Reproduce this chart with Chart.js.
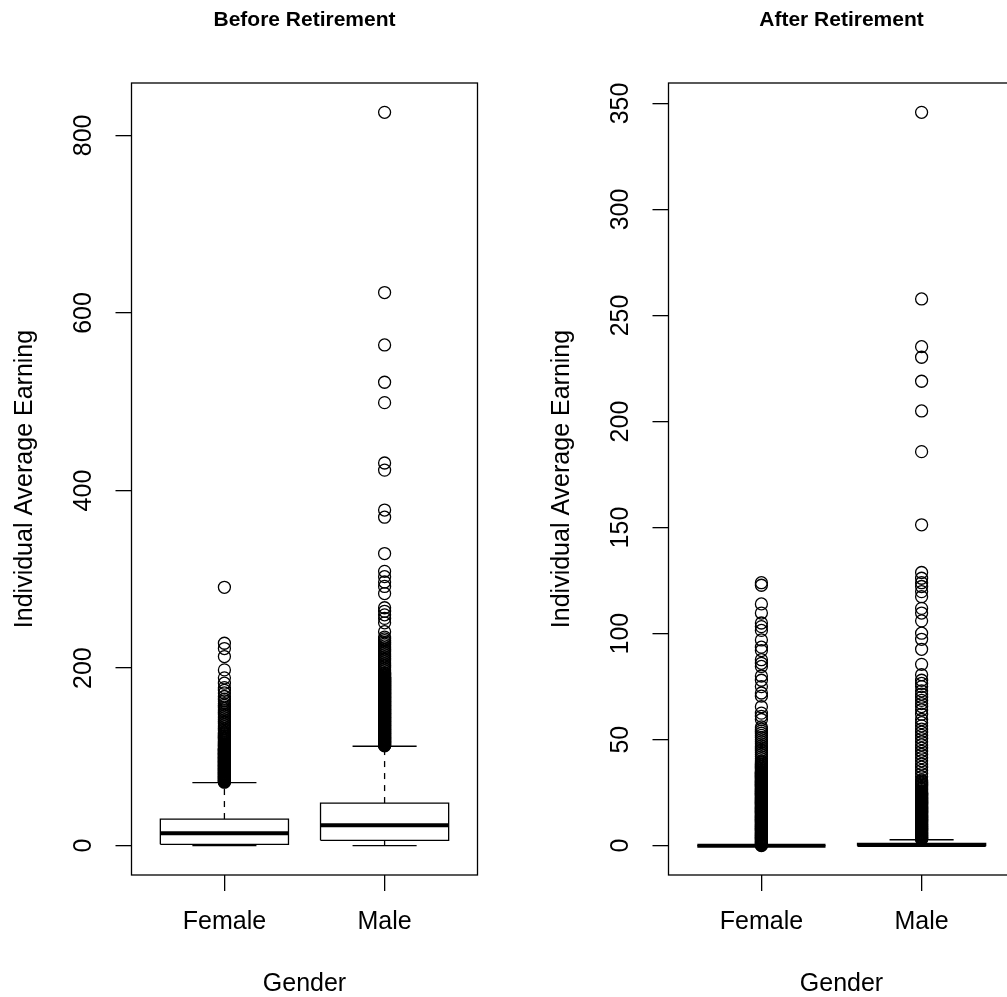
<!DOCTYPE html>
<html>
<head>
<meta charset="utf-8">
<script src="https://cdn.jsdelivr.net/npm/chart.js@4.4.1/dist/chart.umd.min.js"></script>
<style>
html, body { margin: 0; padding: 0; background: #fff; overflow: hidden; width: 1007px; height: 997px; }
#wrap { position: relative; width: 1007px; height: 997px; overflow: hidden; background: #fff; }
canvas.panel { position: absolute; top: 0; width: 504px; height: 997px; }
</style>
</head>
<body>
<div id="wrap">
  <canvas id="before" class="panel" width="504" height="997" style="left:0px"></canvas>
  <canvas id="after" class="panel" width="504" height="997" style="left:537px"></canvas>
</div>
<script>
// ---------------- DATA ----------------
const categories = ['Female', 'Male'];
const beforeTickValues = [0, 200, 400, 600, 800];
const afterTickValues = [0, 50, 100, 150, 200, 250, 300, 350];

// Before retirement box statistics
const beforeLowerWhisker = [0, 0];
const beforeQ1 = [1.5, 6];
const beforeMedian = [14, 23];
const beforeQ3 = [30, 48];
const beforeUpperWhisker = [71, 112];

const beforeFemaleOutliers = [71.5,72,72.5,73,73.5,74,74.5,75,75.5,76,76.5,77,77.5,78,78.5,79,79.5,80,80.5,81,81.5,82,82.5,83,83.5,84,84.5,85,85.5,86,86.5,87,87.5,88,88.5,89,89.5,90,90.5,91,91.5,92,92.5,93,93.5,94,94.5,95,95.5,96,96.5,97,97.5,98,98.5,99,99.5,100,100.5,101,101.5,102,102.5,103,103.5,104,104.5,105,105.5,106,106.5,107,107.5,108,108.5,109,109.5,110,111,112,113,114,115,116,117,118,119,120,121,122,123,124,125,126,127,128,130,132,134,136,138,140,142,144,146,148,150,152,154,156,158,160,163,165,168,172,175,178,183,189,198,213,222,228,291];

const beforeMaleOutliers = [112.5,113,113.5,114,114.5,115,115.5,116,116.5,117,117.5,118,118.5,119,119.5,120,120.5,121,121.5,122,122.5,123,123.5,124,124.5,125,125.5,126,126.5,127,127.5,128,128.5,129,129.5,130,130.5,131,131.5,132,132.5,133,133.5,134,134.5,135,135.5,136,136.5,137,137.5,138,138.5,139,139.5,140,140.5,141,141.5,142,142.5,143,143.5,144,144.5,145,145.5,146,146.5,147,147.5,148,148.5,149,149.5,150,150.5,151,151.5,152,152.5,153,153.5,154,154.5,155,155.5,156,156.5,157,157.5,158,158.5,159,159.5,160,160.5,161,161.5,162,162.5,163,163.5,164,164.5,165,165.5,166,166.5,167,167.5,168,168.5,169,169.5,170,170.5,171,171.5,172,172.5,173,173.5,174,174.5,175,175.5,176,176.5,177,177.5,178,178.5,179,179.5,180,180.5,181,181.5,182,182.5,183,183.5,184,184.5,185,185.5,186,186.5,187,187.5,188,188.5,189,189.5,190,191,192,193,194,195,197,199,201,203,205,207,209,211,213,215,217,219,221,223,225,227,229,231,233,235,241,251,256,260,264,268,284,292,297,303,309,329,370,378,423,431,499,522,564,623,826];

// After retirement box statistics
const afterLowerWhisker = [0, 0];
const afterQ1 = [0, 0];
const afterMedian = [0, 0.3];
const afterQ3 = [0, 1.1];
const afterUpperWhisker = [0, 2.8];

const afterFemaleOutliers = [0.05,0.25,0.5,0.75,1,1.25,1.5,1.75,2,2.25,2.5,2.75,3,3.25,3.5,3.75,4,4.25,4.5,4.75,5,5.25,5.5,5.75,6,6.25,6.5,6.75,7,7.25,7.5,7.75,8,8.25,8.5,8.75,9,9.25,9.5,9.75,10,10.25,10.5,10.75,11,11.25,11.5,11.75,12,12.25,12.5,12.75,13,13.25,13.5,13.75,14,14.25,14.5,14.75,15,15.25,15.5,15.75,16,16.25,16.5,16.75,17,17.25,17.5,17.75,18,18.25,18.5,18.75,19,19.25,19.5,19.75,20,20.25,20.5,20.75,21,21.25,21.5,21.75,22,22.25,22.5,22.75,23,23.25,23.5,23.75,24,24.25,24.5,24.75,25,25.25,25.5,25.75,26,26.25,26.5,26.75,27,27.25,27.5,27.75,28,28.25,28.5,28.75,29,29.25,29.5,29.75,30,30.25,30.5,30.75,31,31.25,31.5,31.75,32,32.25,32.5,32.75,33,33.25,33.5,33.75,34,34.25,34.5,34.75,35,35.5,36,36.5,37,37.5,38,38.5,39,39.5,40,41,42,43,44,45,46,47,48,49,50,51,52,53,54,55,56,59.5,61,62.5,65.5,70.5,72,75,78,80,84.5,86,87.7,92,93.6,97,101.5,103.3,105,109.7,114,122.8,124];

const afterMaleOutliers = [3,3.25,3.5,3.75,4,4.25,4.5,4.75,5,5.25,5.5,5.75,6,6.25,6.5,6.75,7,7.25,7.5,7.75,8,8.25,8.5,8.75,9,9.25,9.5,9.75,10,10.25,10.5,10.75,11,11.25,11.5,11.75,12,12.25,12.5,12.75,13,13.25,13.5,13.75,14,14.25,14.5,14.75,15,15.25,15.5,15.75,16,16.25,16.5,16.75,17,17.25,17.5,17.75,18,18.25,18.5,18.75,19,19.25,19.5,19.75,20,20.25,20.5,20.75,21,21.25,21.5,21.75,22,22.25,22.5,22.75,23,23.25,23.5,23.75,24,24.25,24.5,24.75,25,25.5,26,26.5,27,27.5,28,28.5,29,29.5,30,30.5,31,32.5,34,35.5,37,38.5,40,41.5,43,44.5,46,47.5,49,50.5,52,53.5,55,56.5,58,59.5,62,64,65.6,67,68.5,70,71.5,73,75,76.5,78,80.6,85.5,92.6,97.3,100.2,106,109.7,111.9,117.4,119.8,122.2,124,126.1,128.8,151.3,185.8,205,219,230.3,235.3,257.8,345.8];

// ---------------- STYLE ----------------
Chart.defaults.font.family = '"Liberation Sans", Arial, Helvetica, sans-serif';
const BOX_HALF = 0.4;     // boxwex 0.8
const CAP_HALF = 0.2;     // staplewex 0.5
const LW = 1.3;
const INK = '#000000';

const framePlugin = {
  id: 'frame',
  afterDatasetsDraw(chart) {
    const a = chart.chartArea, c = chart.ctx;
    c.save();
    c.strokeStyle = INK;
    c.lineWidth = LW;
    c.strokeRect(a.left, a.top, a.right - a.left, a.bottom - a.top);
    c.restore();
  }
};

function lineDs(points, width, dash) {
  return {
    data: points, showLine: true, borderColor: INK, borderWidth: width,
    borderDash: dash || [], borderCapStyle: 'butt', borderJoinStyle: 'miter',
    pointRadius: 0, fill: false, tension: 0, backgroundColor: INK
  };
}

function buildPanel(canvasId, title, tickValues, lower, q1, med, q3, upper, outlierSets) {
  const datasets = [];
  const allValues = [];
  categories.forEach((cat, i) => {
    const x = i + 1;
    datasets.push(lineDs([
      {x: x - BOX_HALF, y: q1[i]}, {x: x + BOX_HALF, y: q1[i]},
      {x: x + BOX_HALF, y: q3[i]}, {x: x - BOX_HALF, y: q3[i]},
      {x: x - BOX_HALF, y: q1[i]}], LW));
    datasets.push(lineDs([{x: x - BOX_HALF, y: med[i]}, {x: x + BOX_HALF, y: med[i]}], 4));
    datasets.push(lineDs([{x: x, y: q3[i]}, {x: x, y: upper[i]}], LW, [6, 6]));
    datasets.push(lineDs([{x: x, y: q1[i]}, {x: x, y: lower[i]}], LW, [6, 6]));
    datasets.push(lineDs([{x: x - CAP_HALF, y: upper[i]}, {x: x + CAP_HALF, y: upper[i]}], LW));
    datasets.push(lineDs([{x: x - CAP_HALF, y: lower[i]}, {x: x + CAP_HALF, y: lower[i]}], LW));
    datasets.push({
      data: outlierSets[i].map(v => ({x: x, y: v})),
      showLine: false, pointStyle: 'circle', pointRadius: 6,
      pointBorderWidth: LW, pointBorderColor: INK,
      pointBackgroundColor: 'rgba(0,0,0,0)'
    });
    allValues.push(lower[i], upper[i], ...outlierSets[i]);
  });
  const lo = Math.min(...allValues), hi = Math.max(...allValues);
  const ext = (hi - lo) * 0.04;
  const tickGrid = {display: true, drawOnChartArea: false, drawTicks: true, tickLength: 16, color: INK, lineWidth: LW};

  new Chart(document.getElementById(canvasId), {
    type: 'scatter',
    data: {datasets},
    options: {
      responsive: false, animation: false, events: [],
      layout: {padding: {left: 0, right: 26.5, top: 0, bottom: 0}},
      plugins: {
        legend: {display: false}, tooltip: {enabled: false},
        title: {display: true, text: title, fullSize: false, color: INK,
          font: {size: 21, weight: 'bold', lineHeight: 1}, padding: {top: 9.7, bottom: 52.3}}
      },
      scales: {
        x: {
          type: 'linear', bounds: 'data', min: 0.5 - 0.08, max: categories.length + 0.5 + 0.08,
          afterFit(s) { s.height = 122; },
          afterBuildTicks(s) { s.ticks = categories.map((c, i) => ({value: i + 1})); },
          ticks: {color: INK, font: {size: 25, lineHeight: 1.2}, padding: 16, autoSkip: false,
            maxRotation: 0, minRotation: 0, callback: (v, i) => categories[i]},
          grid: tickGrid, border: {display: false},
          title: {display: true, text: 'Gender', color: INK, font: {size: 25, lineHeight: 1}, padding: {top: 0, bottom: 0.5}}
        },
        y: {
          type: 'linear', bounds: 'data', min: lo - ext, max: hi + ext,
          afterFit(s) { s.width = 131.5; },
          afterBuildTicks(s) { s.ticks = tickValues.map(v => ({value: v})); },
          ticks: {color: INK, font: {size: 25, lineHeight: 1.2}, padding: 11, minRotation: 90, maxRotation: 90,
            crossAlign: 'center', autoSkip: false, callback: v => String(v)},
          grid: tickGrid, border: {display: false},
          title: {display: true, text: 'Individual Average Earning', color: INK, font: {size: 25, lineHeight: 1}, padding: {top: 12.75, bottom: 0}}
        }
      }
    },
    plugins: [framePlugin]
  });
}

buildPanel('before', 'Before Retirement', beforeTickValues,
  beforeLowerWhisker, beforeQ1, beforeMedian, beforeQ3, beforeUpperWhisker,
  [beforeFemaleOutliers, beforeMaleOutliers]);
buildPanel('after', 'After Retirement', afterTickValues,
  afterLowerWhisker, afterQ1, afterMedian, afterQ3, afterUpperWhisker,
  [afterFemaleOutliers, afterMaleOutliers]);
</script>
</body>
</html>
